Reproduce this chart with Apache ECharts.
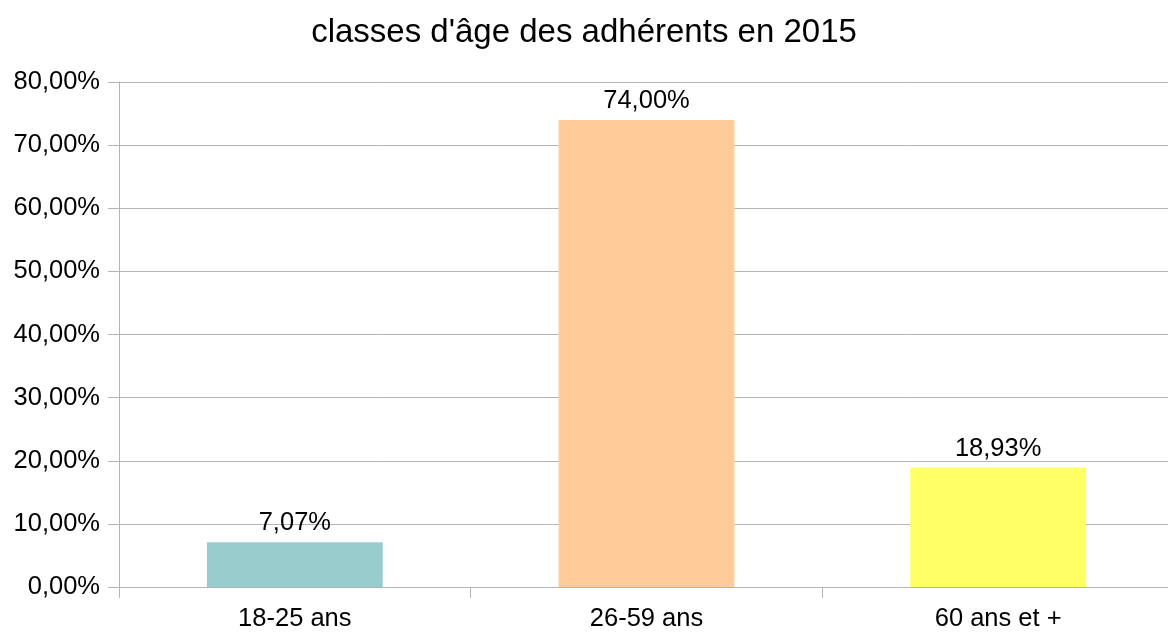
<!DOCTYPE html>
<html><head><meta charset="utf-8">
<script src="https://cdn.jsdelivr.net/npm/echarts@6/dist/echarts.min.js"></script>
<style>html,body{margin:0;padding:0;background:#fff}#c{width:1168px;height:636px}</style>
</head><body><div id="c"></div>
<script>
const titleText = "classes d'âge des adhérents en 2015";
const categories = ["18-25 ans", "26-59 ans", "60 ans et +"];
const values = [7.07, 74.00, 18.93];
const colors = ["#99cccc", "#ffcc99", "#ffff66"];
const yTicks = [0, 10, 20, 30, 40, 50, 60, 70, 80];

const fmt = v => v.toFixed(2).replace('.', ',') + '%';
const FONT = "'Liberation Sans', Arial, sans-serif";
const chart = echarts.init(document.getElementById('c'));
chart.setOption({
  animation: false,
  backgroundColor: '#ffffff',
  title: {
    text: titleText, left: 'center', top: 11,
    textStyle: { fontFamily: FONT, fontSize: 33, fontWeight: 'normal', color: '#000' }
  },
  grid: { left: 119, width: 1055, top: 82, bottom: 49, containLabel: false, outerBoundsMode: 'none' },
  xAxis: {
    type: 'category', data: categories,
    axisLine: { show: true, lineStyle: { color: '#b3b3b3', width: 1 } },
    axisTick: { show: true, length: 11, lineStyle: { color: '#b3b3b3' } },
    axisLabel: { fontFamily: FONT, fontSize: 25.5, color: '#000', margin: 19 }
  },
  yAxis: {
    type: 'value', min: yTicks[0], max: yTicks[yTicks.length - 1], interval: 10,
    axisLine: { show: true, lineStyle: { color: '#b3b3b3', width: 1 } },
    axisTick: { show: true, length: 11, lineStyle: { color: '#b3b3b3' } },
    axisLabel: { fontFamily: FONT, fontSize: 25.5, color: '#000', margin: 19, formatter: fmt },
    splitLine: { show: true, lineStyle: { color: '#b3b3b3', width: 1 } }
  },
  series: [{
    type: 'bar',
    data: values.map((v, i) => ({ value: v, itemStyle: { color: colors[i] } })),
    barWidth: '50%',
    label: {
      show: true, position: 'top', distance: 6,
      fontFamily: FONT, fontSize: 25.5, color: '#000',
      formatter: p => fmt(p.value)
    }
  }]
});
</script></body></html>
